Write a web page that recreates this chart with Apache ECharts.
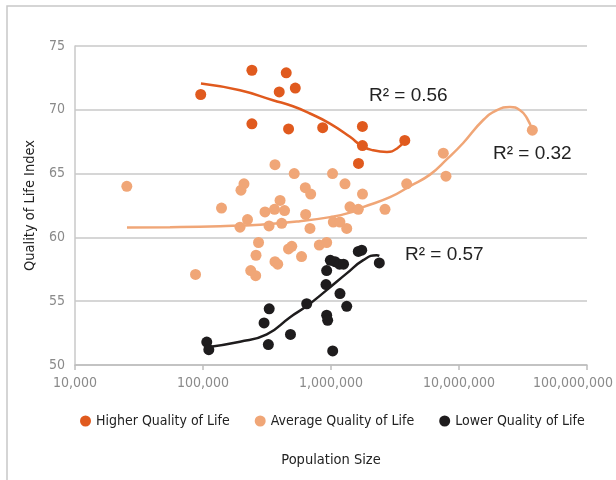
<!DOCTYPE html>
<html><head><meta charset="utf-8">
<script src="https://cdn.jsdelivr.net/npm/echarts@6/dist/echarts.min.js"></script>
<style>html,body{margin:0;padding:0;background:#fff}#c{width:616px;height:480px}</style>
</head><body><div id="c"></div>
<script>
// Data: [population, quality of life index]
const higherPoints = [
  [96000,71.2],[241000,73.1],[447000,72.9],[394000,71.4],[526000,71.7],
  [241000,68.9],[466000,68.5],[861000,68.6],[1760000,68.7],[1760000,67.2],
  [1640000,65.8],[3770000,67.6]
];
const averagePoints = [
  [25400,64.0],[87400,57.1],[139500,62.3],[198000,63.7],[209000,64.2],
  [222700,61.4],[194600,60.8],[305000,62.0],[362000,62.2],[400000,62.9],
  [433500,62.1],[328000,60.9],[412000,61.1],[365000,65.7],[516000,65.0],
  [630000,63.9],[694000,63.4],[634000,61.8],[685000,60.7],[271500,59.6],
  [259500,58.6],[236000,57.4],[258000,57.0],[365000,58.1],[383500,57.9],
  [465500,59.1],[494000,59.3],[588500,58.5],[810000,59.4],[925000,59.6],
  [1028000,65.0],[1286000,64.2],[1762000,63.4],[1407000,62.4],[1634000,62.2],
  [2642000,62.2],[1042000,61.2],[1175000,61.2],[1327000,60.7],[3902000,64.2],
  [7540000,66.6],[7910000,64.8],[37400000,68.4]
];
const lowerPoints = [
  [107000,51.8],[111000,51.2],[300000,53.3],[329000,54.4],[324000,51.6],
  [482500,52.4],[646000,54.8],[925000,57.4],[914000,56.3],[1175000,55.6],
  [1327000,54.6],[925000,53.9],[942000,53.5],[1031000,51.1],[988000,58.2],
  [1075000,58.1],[1165000,57.9],[1253000,57.9],[1634000,58.9],[1738000,59.0],
  [2384000,58.0]
];
// Trend curves
const higherTrend = [
  [96400,72.06],[194500,71.53],[352200,70.75],[504500,70.28],[685300,69.71],
  [982000,68.92],[1407000,67.88],[1746000,67.15],[2128000,66.83],[2738000,66.70],
  [3280000,66.97],[3787000,67.62]
];
const averageTrend = [
  [25470,60.77],[55200,60.80],[135900,60.88],[278700,61.00],[572000,61.27],
  [982000,61.59],[1407000,61.94],[1778000,62.37],[2891000,63.15],[4141000,64.02],
  [5933000,64.92],[8054000,66.13],[10740000,67.38],[15400000,69.18],[19820000,69.97],
  [25010000,70.22],[29980000,69.97],[33990000,69.34],[37400000,68.40]
];
const lowerTrend = [
  [107500,51.4],[194500,51.82],[315000,52.4],[479000,53.75],[646000,54.62],
  [925000,55.87],[1327000,57.18],[1786000,58.22],[2275000,58.61],[2384000,58.56]
];
const seriesNames = ['Higher Quality of Life','Average Quality of Life','Lower Quality of Life'];
const r2Labels = ['R\u00B2 = 0.56','R\u00B2 = 0.32','R\u00B2 = 0.57'];
const xTicks = [10000,100000,1000000,10000000,100000000];
const yTicks = [50,55,60,65,70,75];

const colors = ['#E05A1E','#F0A677','#1E1C1D'];
const labelFont = "'Liberation Sans Narrow','DejaVu Sans Condensed',sans-serif";
const r2Font = "19px 'Liberation Sans',Arial,sans-serif";

const chart = echarts.init(document.getElementById('c'), null, {renderer:'canvas'});
function scatter(i, data){
  return {name:seriesNames[i], type:'scatter', data:data, symbol:'circle', symbolSize:11,
    itemStyle:{color:colors[i], opacity:1}, z:3};
}
function trend(i, data){
  return {name:seriesNames[i]+' trend', type:'line', data:data, smooth:0.5,
    showSymbol:false, lineStyle:{color:colors[i], width:2.5}, z:2, silent:true};
}
const xMax = xTicks[xTicks.length-1];
chart.setOption({
  animation:false,
  grid:{left:75, right:29, top:46, bottom:115, containLabel:false, outerBoundsMode:'none'},
  legend:{data:seriesNames.map(n=>({name:n, icon:'circle'})), top:409, left:75,
    itemWidth:11, itemHeight:11, itemGap:25,
    textStyle:{fontFamily:labelFont, fontSize:14, color:'#222'}},
  xAxis:{type:'log', logBase:10, min:xTicks[0], max:xMax,
    name:'Population Size', nameLocation:'middle', nameGap:88,
    nameTextStyle:{fontFamily:labelFont, fontSize:14.5, color:'#222'},
    axisLine:{lineStyle:{color:'#bdbdbd', width:1.5}},
    axisTick:{show:true, length:5, lineStyle:{color:'#bdbdbd', width:1.5}},
    splitLine:{show:false},
    axisLabel:{fontFamily:labelFont, fontSize:14, color:'#8a8a8a', margin:11,
      formatter:v=>{const s=Math.round(v).toLocaleString('en-US');
        return Math.round(v)===xMax ? '{last|'+s+'}' : s;},
      rich:{last:{fontFamily:labelFont, fontSize:14, color:'#8a8a8a', padding:[0,28,0,0]}}}},
  yAxis:{type:'value', min:yTicks[0], max:yTicks[yTicks.length-1], interval:5,
    name:'Quality of Life Index', nameLocation:'middle', nameGap:37,
    nameTextStyle:{fontFamily:labelFont, fontSize:14.5, color:'#222'},
    axisLine:{show:true, lineStyle:{color:'#c8c8c8', width:1.5}},
    axisTick:{show:false},
    splitLine:{lineStyle:{color:'#c8c8c8', width:1.5}},
    axisLabel:{fontFamily:labelFont, fontSize:14, color:'#8a8a8a', margin:10}},
  graphic:[
    {type:'rect', shape:{x:7, y:6, width:640, height:500}, style:{fill:'none', stroke:'#c8c8c8', lineWidth:1.5}, silent:true},
    {type:'text', left:369, top:86, style:{text:r2Labels[0], font:r2Font, fill:'#222'}},
    {type:'text', left:493, top:144, style:{text:r2Labels[1], font:r2Font, fill:'#222'}},
    {type:'text', left:405, top:245, style:{text:r2Labels[2], font:r2Font, fill:'#222'}}
  ],
  series:[
    trend(0, higherTrend), trend(1, averageTrend), trend(2, lowerTrend),
    scatter(0, higherPoints), scatter(1, averagePoints), scatter(2, lowerPoints)
  ]
});
</script></body></html>
